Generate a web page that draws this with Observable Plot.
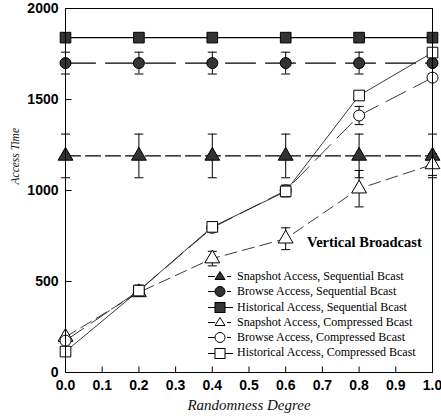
<!DOCTYPE html>
<html><head><meta charset="utf-8">
<script src="https://cdn.jsdelivr.net/npm/d3@7"></script>
<script src="https://cdn.jsdelivr.net/npm/@observablehq/plot@0.6"></script>
<style>
body{margin:0;background:#fff}
#wrap{position:relative;width:441px;height:420px;overflow:hidden}
#title{position:absolute;left:307px;top:234px;font:bold 14.5px "Liberation Serif","Times New Roman",serif;white-space:nowrap}
#legend{position:absolute;left:208px;top:269px;font:12px "Liberation Serif","Times New Roman",serif;line-height:15.3px}
#legend .row{display:flex;align-items:center;height:15.3px;white-space:nowrap}
#legend svg{margin-right:2px}
</style>
</head><body><div id="wrap"></div>
<script>
// ---- data ----
const degrees = [0.0, 0.2, 0.4, 0.6, 0.8, 1.0];
const xTicks = [0.0, 0.1, 0.2, 0.3, 0.4, 0.5, 0.6, 0.7, 0.8, 0.9, 1.0];
const yTicks = [0, 500, 1000, 1500, 2000];
const seriesNames = [
  "Snapshot Access, Sequential Bcast",
  "Browse Access, Sequential Bcast",
  "Historical Access, Sequential Bcast",
  "Snapshot Access, Compressed Bcast",
  "Browse Access, Compressed Bcast",
  "Historical Access, Compressed Bcast"
];
const snapshotSeq = [1190, 1190, 1190, 1190, 1190, 1190];
const snapshotSeqErr = [120, 120, 120, 120, 120, 120];
const browseSeq = [1700, 1700, 1700, 1700, 1700, 1700];
const browseSeqErr = [60, 60, 60, 60, 60, 60];
const historicalSeq = [1840, 1840, 1840, 1840, 1840, 1840];
const historicalSeqErr = [0, 0, 0, 0, 0, 0];
const snapshotComp = [195, 440, 626, 735, 1010, 1143];
const snapshotCompErr = [0, 20, 40, 60, 100, 60];
const browseComp = [175, 450, 795, 1000, 1412, 1620];
const browseCompErr = [0, 20, 20, 30, 50, 0];
const historicalComp = [115, 450, 800, 995, 1522, 1758];
const historicalCompErr = [0, 30, 20, 30, 0, 0];
const valueLists = [snapshotSeq, browseSeq, historicalSeq, snapshotComp, browseComp, historicalComp];
const errLists = [snapshotSeqErr, browseSeqErr, historicalSeqErr, snapshotCompErr, browseCompErr, historicalCompErr];

// ---- styles ----
const styles = [
  {symbol: "triangle", fill: "#333", dash: "15,5", width: 1.2},
  {symbol: "circle", fill: "#333", dash: "30,10", width: 1.2},
  {symbol: "square", fill: "#333", dash: null, width: 1.2},
  {symbol: "triangle", fill: "white", dash: "12,6", width: 0.9},
  {symbol: "circle", fill: "white", dash: "22,9", width: 0.9},
  {symbol: "square", fill: "white", dash: null, width: 0.9}
];

const rows = [];
seriesNames.forEach((s, i) => degrees.forEach((x, j) => rows.push({series: s, i, x, y: valueLists[i][j], e: errLists[i][j]})));

const capSym = {draw(ctx){ ctx.moveTo(-4.5, 0); ctx.lineTo(4.5, 0); }};
const xTickSym = {draw(ctx){ ctx.moveTo(0, 0); ctx.lineTo(0, -6); }};
const yTickSym = {draw(ctx){ ctx.moveTo(0, 0); ctx.lineTo(6, 0); }};

const marks = [];
styles.forEach((st, i) => {
  marks.push(Plot.line(rows.filter(d => d.i === i), {x: "x", y: "y", stroke: i < 3 ? "black" : "#222", strokeWidth: st.width, strokeDasharray: st.dash}));
});
const errRows = rows.filter(d => d.e > 0);
marks.push(Plot.ruleX(errRows, {x: "x", y1: d => d.y - d.e, y2: d => d.y + d.e, stroke: "black", strokeWidth: 1}));
marks.push(Plot.dot(errRows, {x: "x", y: d => d.y - d.e, symbol: capSym, fill: "none", stroke: "black", strokeWidth: 1}));
marks.push(Plot.dot(errRows, {x: "x", y: d => d.y + d.e, symbol: capSym, fill: "none", stroke: "black", strokeWidth: 1}));
styles.forEach((st, i) => {
  marks.push(Plot.dot(rows.filter(d => d.i === i), {x: "x", y: "y", symbol: st.symbol, r: st.symbol === "square" ? 6 : 5.5, fill: st.fill, stroke: "black", strokeWidth: 1}));
});
marks.push(Plot.dot(xTicks, {x: d => d, y: 0, symbol: xTickSym, fill: "none", stroke: "black", strokeWidth: 1}));
marks.push(Plot.dot(yTicks, {x: 0, y: d => d, symbol: yTickSym, fill: "none", stroke: "black", strokeWidth: 1}));
marks.push(Plot.axisX(xTicks, {tickSize: 0, tickPadding: 8, tickFormat: d3.format(".1f"), fontWeight: "bold", fontSize: 14, fill: "black", label: null}));
marks.push(Plot.axisY(yTicks, {tickSize: 0, tickPadding: 7, tickFormat: d => String(d), fontWeight: "bold", fontSize: 14, fill: "black", label: null}));
marks.push(Plot.frame({stroke: "black", strokeWidth: 1}));
marks.push(Plot.text(["Randomness Degree"], {frameAnchor: "bottom", dy: 37, fill: "#111", fontStyle: "italic", fontFamily: "Liberation Serif, Times New Roman, serif", fontSize: 15}));
marks.push(Plot.text(["Access Time"], {frameAnchor: "left", dx: -50, dy: -6, rotate: -90, fill: "#111", fontStyle: "italic", fontFamily: "Liberation Serif, Times New Roman, serif", fontSize: 11.5}));

const chart = Plot.plot({
  width: 441, height: 420,
  marginTop: 8, marginRight: 9, marginBottom: 48, marginLeft: 65,
  x: {domain: [0, 1], axis: null},
  y: {domain: [0, 2000], axis: null},
  style: {fontFamily: "Liberation Sans, Arial, sans-serif", fontSize: "14px", background: "white", color: "black"},
  marks
});
const wrap = document.getElementById("wrap");
wrap.appendChild(chart);

const title = document.createElement("div");
title.id = "title";
title.textContent = "Vertical Broadcast";
wrap.appendChild(title);

const legend = document.createElement("div");
legend.id = "legend";
const symPath = {
  triangle: `<path d="M12,2.5 L17,10.5 L7,10.5 Z"/>`,
  circle: `<circle cx="12" cy="7.5" r="5"/>`,
  square: `<rect x="7" y="2.5" width="10" height="10"/>`
};
styles.forEach((st, i) => {
  const row = document.createElement("div");
  row.className = "row";
  const right = st.dash ? `<line x1="19" y1="7.5" x2="23" y2="7.5" stroke="black"/>` : `<line x1="17" y1="7.5" x2="25" y2="7.5" stroke="black"/>`;
  row.innerHTML = `<svg width="27" height="15"><line x1="0" y1="7.5" x2="7" y2="7.5" stroke="black"/>${right}<g fill="${st.fill}" stroke="black">${symPath[st.symbol]}</g></svg><span>${seriesNames[i]}</span>`;
  legend.appendChild(row);
});
wrap.appendChild(legend);
</script>
</body></html>
